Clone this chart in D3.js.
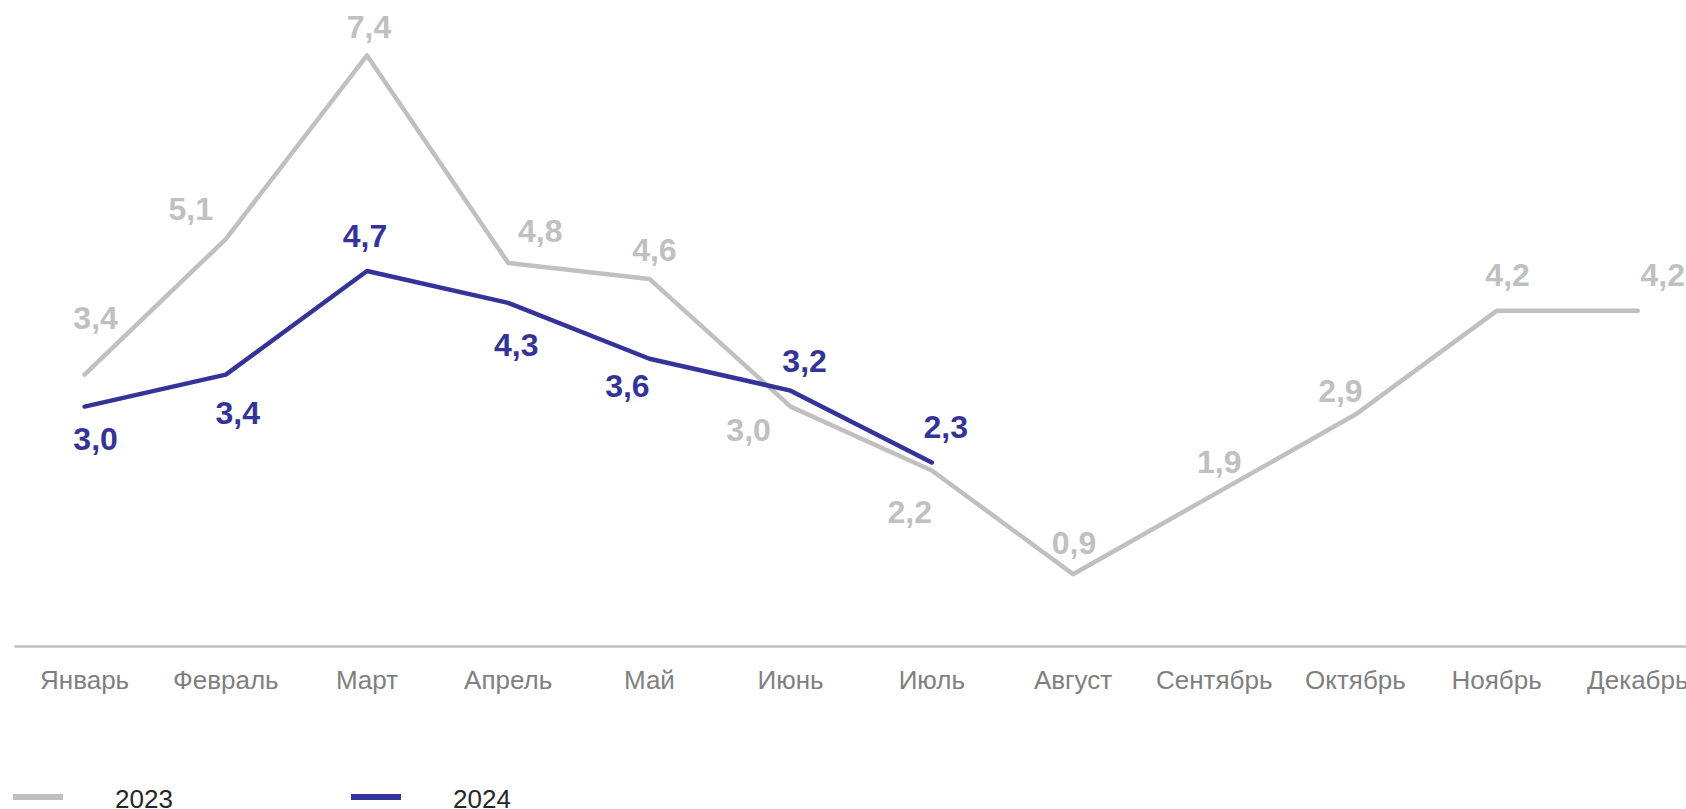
<!DOCTYPE html>
<html>
<head>
<meta charset="utf-8">
<script src="https://cdn.jsdelivr.net/npm/d3@7"></script>
<style>
  body { margin: 0; background: #fff; }
  svg { display: block; font-family: "Liberation Sans", Arial, sans-serif; }
</style>
</head>
<body>
<svg id="chart" width="1686" height="809"></svg>
<script>
const MONTHS = ['Январь', 'Февраль', 'Март', 'Апрель', 'Май', 'Июнь', 'Июль', 'Август', 'Сентябрь', 'Октябрь', 'Ноябрь', 'Декабрь'];
const VALUES_2023 = [3.4, 5.1, 7.4, 4.8, 4.6, 3.0, 2.2, 0.9, 1.9, 2.9, 4.2, 4.2];
const VALUES_2024 = [3.0, 3.4, 4.7, 4.3, 3.6, 3.2, 2.3];
const SERIES_NAMES = ['2023', '2024'];

// label placement (offset of label centre from the point), like the manual positions in the original
const LABEL_POS_2023 = [[11, -57], [-35, -31], [2, -29], [32, -32], [5, -29], [-42, 23], [-22, 41], [1, -32], [5, -33], [-15, -24], [11, -36], [25, -36]];
const LABEL_POS_2024 = [[11, 32], [12, 38], [-2, -35], [8, 42], [-22, 27], [14, -30], [14, -36]];

const colors = { y2023: '#c0c0c0', y2024: '#333399' };

const drawChart = (selector) => {
    const svg = d3.select(selector);
    const margin = { left: 14, bottom: 646, top: 8 };
    const step = 141.2;

    const x = d3
        .scaleBand()
        .domain(MONTHS)
        .range([margin.left, margin.left + step * MONTHS.length]);
    const y = d3
        .scaleLinear()
        .domain([0, 8])
        .range([margin.bottom, margin.bottom - 8 * 79.8]);

    const cx = (i) => x(MONTHS[i]) + x.bandwidth() / 2;
    const fmt = (v) => d3.format('.1f')(v).replace('.', ',');

    // x axis
    const xAxis = (g) =>
        g
            .attr('transform', `translate(0,${y(0)})`)
            .call(d3.axisBottom(x).tickSize(0).tickSizeOuter(0))
            .call((g) => g.select('.domain').attr('stroke', '#bfbfbf').attr('stroke-width', 2.5))
            .call((g) =>
                g
                    .selectAll('text')
                    .attr('y', 43)
                    .attr('dy', 0)
                    .attr('fill', '#7f7f7f')
                    .attr('font-size', 26)
                    .attr('font-family', '"Liberation Sans", Arial, sans-serif')
            );
    svg.append('g').call(xAxis);

    const line = d3
        .line()
        .x((d, i) => cx(i))
        .y((d) => y(d));

    const series = [
        { values: VALUES_2023, color: colors.y2023, pos: LABEL_POS_2023 },
        { values: VALUES_2024, color: colors.y2024, pos: LABEL_POS_2024 },
    ];

    series.forEach((s) => {
        svg
            .append('path')
            .datum(s.values)
            .attr('fill', 'none')
            .attr('stroke', s.color)
            .attr('stroke-width', 4.5)
            .attr('stroke-linejoin', 'round')
            .attr('stroke-linecap', 'round')
            .attr('d', line);
    });

    series.forEach((s) => {
        svg
            .append('g')
            .attr('fill', s.color)
            .attr('font-size', 32)
            .attr('font-weight', 'bold')
            .attr('text-anchor', 'middle')
            .selectAll('text')
            .data(s.values)
            .join('text')
            .attr('x', (d, i) => cx(i) + s.pos[i][0])
            .attr('y', (d, i) => y(d) + s.pos[i][1])
            .attr('dy', '0.36em')
            .text((d) => fmt(d));
    });

    // legend
    const legend = svg.append('g').attr('transform', 'translate(13,797)');
    const legendItems = legend
        .selectAll('g')
        .data(SERIES_NAMES)
        .join('g')
        .attr('transform', (d, i) => `translate(${i * 338},0)`);
    legendItems
        .append('line')
        .attr('x1', 0)
        .attr('x2', 50)
        .attr('stroke', (d, i) => (i === 0 ? colors.y2023 : colors.y2024))
        .attr('stroke-width', 6);
    legendItems
        .append('text')
        .attr('x', 102)
        .attr('y', 11)
        .attr('font-size', 26)
        .attr('fill', '#262626')
        .text((d) => d);
};

drawChart('#chart');
</script>
</body>
</html>
